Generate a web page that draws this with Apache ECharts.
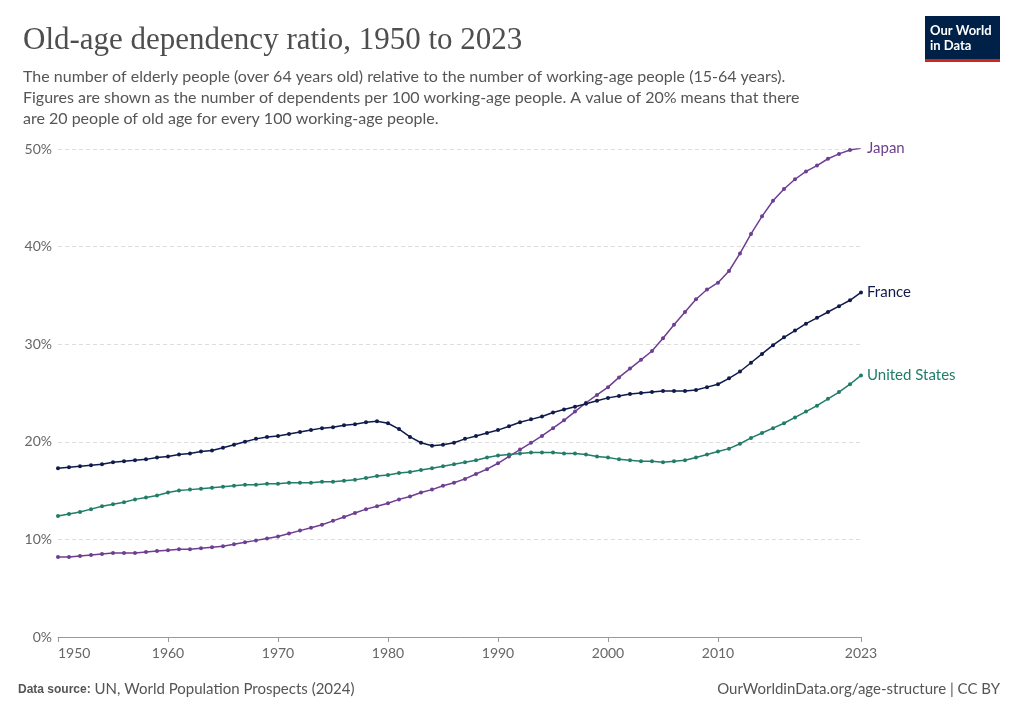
<!DOCTYPE html>
<html>
<head>
<meta charset="utf-8">
<script src="https://cdn.jsdelivr.net/npm/echarts@6/dist/echarts.min.js"></script>
<style>html,body{margin:0;padding:0;background:#fff}#chart{width:1020px;height:720px}</style>
</head>
<body>
<div id="chart"></div>
<script>
var years = [];
for (var y = 1950; y <= 2023; y++) years.push(y);

var japan = [8.2, 8.2, 8.3, 8.4, 8.5, 8.6, 8.6, 8.6, 8.7, 8.8,
  8.9, 9.0, 9.0, 9.1, 9.2, 9.3, 9.5, 9.7, 9.9, 10.1,
  10.3, 10.6, 10.9, 11.2, 11.5, 11.9, 12.3, 12.7, 13.1, 13.4,
  13.7, 14.1, 14.4, 14.8, 15.1, 15.5, 15.8, 16.2, 16.7, 17.2,
  17.8, 18.5, 19.2, 19.9, 20.6, 21.4, 22.2, 23.1, 24.0, 24.8,
  25.6, 26.6, 27.5, 28.4, 29.3, 30.6, 32.0, 33.3, 34.6, 35.6,
  36.3, 37.5, 39.3, 41.3, 43.1, 44.7, 45.9, 46.9, 47.7, 48.3,
  49.0, 49.5, 49.9, 50.1];
var france = [17.3, 17.4, 17.5, 17.6, 17.7, 17.9, 18.0, 18.1, 18.2, 18.4,
  18.5, 18.7, 18.8, 19.0, 19.1, 19.4, 19.7, 20.0, 20.3, 20.5,
  20.6, 20.8, 21.0, 21.2, 21.4, 21.5, 21.7, 21.8, 22.0, 22.1,
  21.9, 21.3, 20.5, 19.9, 19.6, 19.7, 19.9, 20.3, 20.6, 20.9,
  21.2, 21.6, 22.0, 22.3, 22.6, 23.0, 23.3, 23.6, 23.9, 24.2,
  24.5, 24.7, 24.9, 25.0, 25.1, 25.2, 25.2, 25.2, 25.3, 25.6,
  25.9, 26.5, 27.2, 28.1, 29.0, 29.9, 30.7, 31.4, 32.1, 32.7,
  33.3, 33.9, 34.5, 35.3];
var usa = [12.4, 12.6, 12.8, 13.1, 13.4, 13.6, 13.8, 14.1, 14.3, 14.5,
  14.8, 15.0, 15.1, 15.2, 15.3, 15.4, 15.5, 15.6, 15.6, 15.7,
  15.7, 15.8, 15.8, 15.8, 15.9, 15.9, 16.0, 16.1, 16.3, 16.5,
  16.6, 16.8, 16.9, 17.1, 17.3, 17.5, 17.7, 17.9, 18.1, 18.4,
  18.6, 18.7, 18.8, 18.9, 18.9, 18.9, 18.8, 18.8, 18.7, 18.5,
  18.4, 18.2, 18.1, 18.0, 18.0, 17.9, 18.0, 18.1, 18.4, 18.7,
  19.0, 19.3, 19.8, 20.4, 20.9, 21.4, 21.9, 22.5, 23.1, 23.7,
  24.4, 25.1, 25.9, 26.8];
var xTicks = [1950, 1960, 1970, 1980, 1990, 2000, 2010, 2023];

function pairs(vals) {
  return years.map(function (yr, i) { return [yr, vals[i]]; });
}
function line(name, vals, color) {
  return {
    name: name, type: 'line', data: pairs(vals),
    symbol: 'circle', symbolSize: 4, showSymbol: true,
    lineStyle: { color: color, width: 1.5 },
    itemStyle: { color: color },
    endLabel: { show: true, formatter: name, color: color, fontSize: 15, fontFamily: 'Lato', distance: 6 },
    emphasis: { disabled: true }
  };
}

var chart = echarts.init(document.getElementById('chart'));
chart.setOption({
  animation: false,
  textStyle: { fontFamily: 'Lato' },
  title: [{
    text: 'Old-age dependency ratio, 1950 to 2023',
    left: 18, top: 20,
    textStyle: { fontFamily: 'Liberation Serif', fontSize: 31, fontWeight: 'normal', color: '#4e4e4e' }
  }, {
    text: 'The number of elderly people (over 64 years old) relative to the number of working-age people (15-64 years).\nFigures are shown as the number of dependents per 100 working-age people. A value of 20% means that there\nare 20 people of old age for every 100 working-age people.',
    left: 18, top: 61,
    textStyle: { fontFamily: 'Lato', fontSize: 16, fontWeight: 'normal', color: '#555', lineHeight: 21 }
  }],
  graphic: [
    { type: 'rect', left: 925, top: 16, shape: { width: 75, height: 43 }, style: { fill: '#002147' } },
    { type: 'rect', left: 925, top: 59, shape: { width: 75, height: 3 }, style: { fill: '#ce261e' } },
    { type: 'text', left: 930, top: 23, style: { text: 'Our World\nin Data', fill: '#fff', font: 'bold 13px Lato', lineHeight: 15 } },
    { type: 'text', left: 18, top: 682, style: { text: '{b|Data source:} UN, World Population Prospects (2024)', fill: '#555', font: '15px Lato', rich: { b: { fontWeight: 'bold', fill: '#555', font: 'bold 15px Lato' } } } },
    { type: 'text', right: 20, top: 682, style: { text: 'OurWorldinData.org/age-structure | CC BY', fill: '#555', font: '15px Lato' } }
  ],
  grid: { left: 58, right: 159, top: 149, bottom: 83 },
  xAxis: {
    type: 'value', min: 1950, max: 2023,
    axisLine: { lineStyle: { color: '#999' } },
    axisTick: { show: true, customValues: xTicks, length: 5, lineStyle: { color: '#999' } },
    axisLabel: { customValues: xTicks, formatter: function (v) { return String(v); }, color: '#666', fontSize: 14, margin: 9, alignMinLabel: 'left' },
    splitLine: { show: false }
  },
  yAxis: {
    type: 'value', min: 0, max: 50, interval: 10,
    axisLine: { show: false }, axisTick: { show: false },
    axisLabel: { formatter: '{value}%', color: '#666', fontSize: 14, margin: 6, verticalAlign: 'middle' },
    splitLine: { lineStyle: { color: '#ddd', type: [4, 3] } }
  },
  series: [
    line('Japan', japan, '#6d3e91'),
    line('France', france, '#0f1b4a'),
    line('United States', usa, '#1f7d68')
  ]
});
</script>
</body>
</html>
